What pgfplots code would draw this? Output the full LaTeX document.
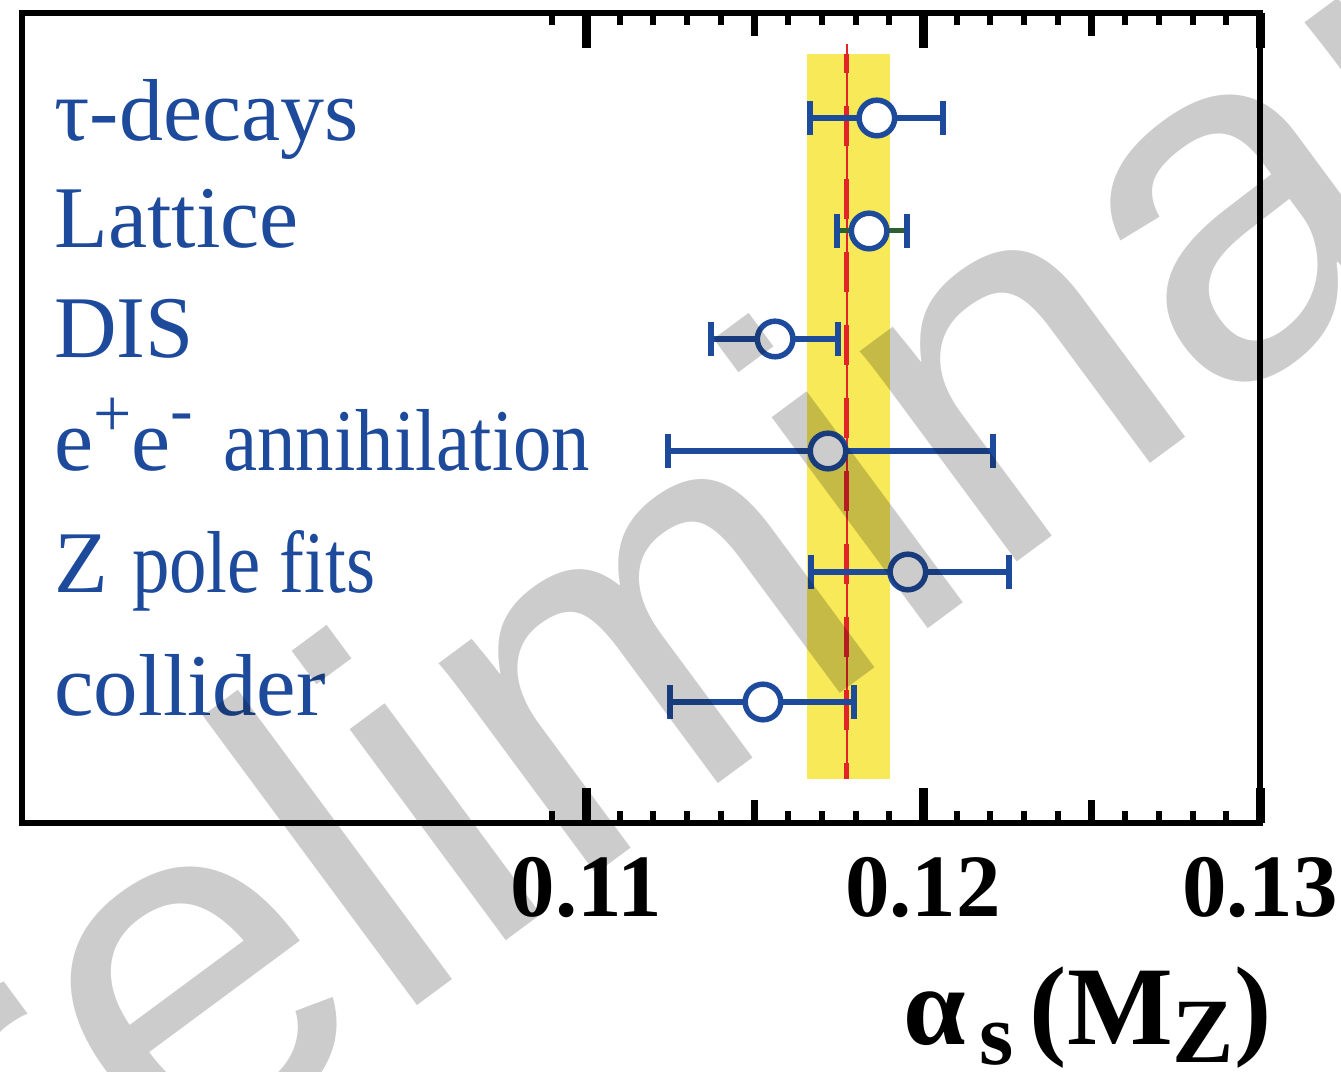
\documentclass[border=0pt]{standalone}
\usepackage{fontspec}
\setmainfont{Liberation Serif}
\newfontfamily\wmfont{Liberation Sans}
\usepackage{pgfplots}
\pgfplotsset{compat=1.18}

\definecolor{ptblue}{RGB}{30,74,156}
\definecolor{ptgreen}{RGB}{45,95,50}
\definecolor{bandyellow}{RGB}{247,233,88}
\definecolor{avgred}{RGB}{226,36,40}

\begin{document}
\begin{tikzpicture}
\path[use as bounding box] (0,0) rectangle (670.5pt,536pt);
\clip (0,0) rectangle (670.5pt,536pt);
\begin{axis}[
  at={(11pt,124.5pt)}, anchor=south west,
  scale only axis, width=619pt, height=405pt,
  xmin=0.09326, xmax=0.13, ymin=0, ymax=810,
  axis line style={line width=3pt},
  ytick=\empty,
  xtick={0.11,0.12,0.13},
  xticklabels={0.11,0.12,0.13},
  minor xtick={0.109,0.111,0.112,0.113,0.114,0.116,0.117,0.118,0.119,0.121,0.122,0.123,0.124,0.126,0.127,0.128,0.129},
  extra x ticks={0.115,0.125},
  extra x tick labels={},
  extra x tick style={major tick length=11.5pt, major tick style={line width=3.5pt, black}},
  tick align=inside,
  major tick length=17.5pt,
  minor tick length=6pt,
  major tick style={line width=4.5pt, black},
  minor tick style={line width=3pt, black},
  /pgf/number format/assume math mode=true,
  xticklabel style={anchor=base, yshift=-47pt, font=\fontsize{44.5pt}{48pt}\selectfont\bfseries},
]
  % world average band
  \addplot[fill=bandyellow, draw=none] coordinates {
    (0.11656,44) (0.11902,44) (0.11902,769) (0.11656,769)
  } -- cycle;
  \addplot[avgred, line width=0.75pt] coordinates {(0.11774,44) (0.11774,779)};
  \addplot[avgred, line width=2.5pt, dash pattern=on 20pt off 16.5pt, dash phase=10.5pt]
    coordinates {(0.11774,769) (0.11774,44)};

  % measurements
  \addplot[ptblue, only marks, mark=*, mark size=8.9pt,
    mark options={fill=white, draw=ptblue, line width=2.75pt},
    error bars/.cd, x dir=both, x explicit, error mark=|,
    error bar style={line width=3pt, ptblue},
    error mark options={line width=3.2pt, mark size=8.5pt, ptblue}]
  coordinates {
    (0.11863,705) += (0.00196,0) -= (0.00198,0)
    (0.11561,484) += (0.00187,0) -= (0.00190,0)
    (0.11718,372) += (0.00490,0) -= (0.00475,0)
    (0.11955,251) += (0.00300,0) -= (0.00287,0)
    (0.11525,121) += (0.00270,0) -= (0.00276,0)
  };
  \addplot[ptblue, only marks, mark=*, mark size=8.9pt,
    mark options={fill=white, draw=ptblue, line width=2.75pt},
    error bars/.cd, x dir=both, x explicit, error mark=|,
    error bar style={line width=2.5pt, ptgreen},
    error mark options={line width=3.2pt, mark size=8.5pt, ptblue}]
  coordinates {
    (0.11840,592) += (0.00112,0) -= (0.00095,0)
  };

  \begin{scope}[every node/.style={anchor=base west, inner sep=0pt, text=ptblue,
      font=\fontsize{44pt}{46pt}\selectfont}]
    \node at (axis cs:0.09421,682) {τ-decays};
    \node at (axis cs:0.09421,575) {Lattice};
    \node at (axis cs:0.09421,465) {\scalebox{0.985}[1]{DIS}};
    \node at (axis cs:0.09421,352) {e\raisebox{17pt}{\fontsize{34pt}{34pt}\selectfont +}e\raisebox{19pt}{\fontsize{34pt}{34pt}\selectfont -}\hspace{15pt}\scalebox{0.872}[1]{annihilation}};
    \node at (axis cs:0.09421,230) {Z\hspace{1pt} \scalebox{0.85}[1]{pole fits}};
    \node at (axis cs:0.09421,107) {\scalebox{1.01}[1]{collider}};
  \end{scope}
\end{axis}

% axis title
\node[anchor=base east, inner sep=0pt, font=\fontsize{56pt}{60pt}\selectfont\bfseries]
  at (636pt,13.5pt)
  {α\hspace{7pt}\raisebox{-10pt}{\fontsize{44pt}{48pt}\selectfont s}\hspace{8pt}(M\raisebox{-9pt}{\fontsize{46pt}{48pt}\selectfont Z})};

% watermark
\node[anchor=base west, inner sep=0pt, rotate=36.5, text=black, text opacity=0.2,
  font=\wmfont\fontsize{248.5pt}{250pt}\selectfont]
  at (-115.5pt,-207pt) {Preliminary};
\end{tikzpicture}
\end{document}
